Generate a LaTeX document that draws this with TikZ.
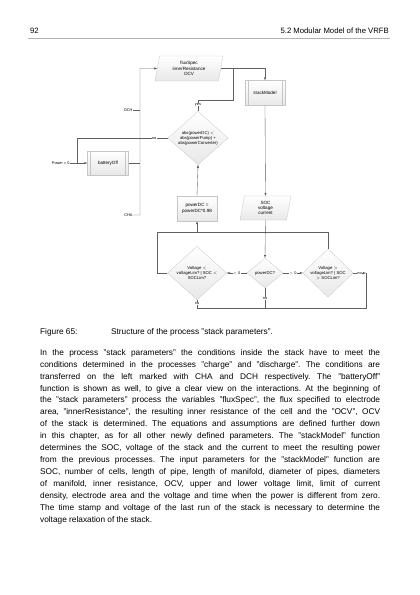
\documentclass[tikz,border=0pt]{standalone}
\usepackage{fontspec}
\setmainfont{Liberation Sans}
\usetikzlibrary{arrows,shapes,positioning}
\frenchspacing

\begin{document}
\begin{tikzpicture}
	[x=0.5mm, y=-0.5mm, >=latex,
	 shapefill/.style={draw=gray!45, top color=white, bottom color=gray!18},
	 procbox/.style={rectangle, shapefill, inner sep=0pt, align=center, font=\fontsize{6.5}{7.5}\selectfont},
	 subproc/.style={procbox, path picture={
	 	\draw[gray!45] ([xshift=1.5mm]path picture bounding box.north west) -- ([xshift=1.5mm]path picture bounding box.south west);
	 	\draw[gray!45] ([xshift=-1.5mm]path picture bounding box.north east) -- ([xshift=-1.5mm]path picture bounding box.south east);}},
	 iodata/.style={trapezium, trapezium left angle=72, trapezium right angle=108, trapezium stretches body, shapefill, inner sep=0pt, align=center, font=\fontsize{6.5}{7.5}\selectfont},
	 decision/.style={diamond, shapefill, inner sep=0pt, align=center, font=\fontsize{6}{7}\selectfont},
	 flow/.style={draw=gray!75!black, line width=0.5pt},
	 tag/.style={fill=white, inner sep=0.6pt, font=\fontsize{5.5}{5.5}\selectfont},
	 pagetext/.style={inner sep=0pt, font=\fontsize{11.8}{17}\selectfont}]
	\useasboundingbox (0,0) rectangle (420,595);
	% page head
	\node[pagetext, anchor=base west, font=\fontsize{11}{13}\selectfont] (pageNo) at (30,33) {92};
	\node[pagetext, anchor=base east, font=\fontsize{11}{13}\selectfont] (chapter) at (389,33) {5.2 Modular Model of the VRFB};
	\draw[gray!60, line width=0.4pt] (28,38) -- (390,38);
	% flow chart
	\node[iodata, minimum width=34mm, minimum height=12.5mm] (fluxSpec) at (189,68.5) {fluxSpec\\innerResistance\\OCV};
	\node[subproc, minimum width=20mm, minimum height=12.5mm] (stackModel) at (265,93) {stackModel};
	\node[decision, minimum width=30mm, minimum height=25mm] (absDia) at (198,138) {abs(powerDC) $<$\\abs(powerPump) +\\abs(powerConverter)};
	\node[subproc, minimum width=20.5mm, minimum height=12mm] (batteryOff) at (108,163) {batteryOff};
	\node[procbox, minimum width=20mm, minimum height=12.5mm] (powerRed) at (197,208.5) {powerDC =\\powerDC*0.98};
	\node[iodata, minimum width=25.5mm, minimum height=12mm] (socOut) at (265.5,208) {SOC\\voltage\\current};
	\node[decision, minimum width=29.5mm, minimum height=23mm] (leftDia) at (197,273) {Voltage $<$\\voltageLim? | SOC $<$\\SOCLim?};
	\node[decision, minimum width=18mm, minimum height=15mm] (powerDia) at (265,273) {powerDC?};
	\node[decision, minimum width=25mm, minimum height=23mm] (rightDia) at (328,273) {Voltage $>$\\voltageLim? | SOC\\$>$ SOCLim?};
	\node[tag, anchor=east] (dchIn) at (133,110) {DCH};
	\node[tag, anchor=east] (chaIn) at (133,215) {CHA};
	\node[tag, anchor=east] (pow0) at (70,163) {Power = 0};
	\coordinate (leftTop) at (140,68.5);
	\coordinate (offJoin) at (77,163);
	\coordinate (yesBend) at (233,100);
	\coordinate (loopLeft) at (157,232);
	\coordinate (loopBottom) at (197,308);
	\coordinate (noEnd) at (366,273);
	% connectors
	\draw[flow,->] (chaIn.east) -| (leftTop) -- (fluxSpec.west);
	\draw[flow] (dchIn.east) -- (dchIn.east -| leftTop);
	\draw[flow] (batteryOff.east) -- (batteryOff.east -| leftTop);
	\draw[flow] (absDia.west) -- node[tag, pos=0.15]{no} (absDia.west -| offJoin) -- (offJoin);
	\draw[flow,->] (pow0.east) -- (batteryOff.west);
	\draw[flow] (absDia.north) |- node[tag, pos=0.3]{yes} (yesBend) -- (yesBend |- fluxSpec.east);
	\draw[flow,->] (fluxSpec.east) -| (stackModel.north);
	\draw[flow,->] (stackModel.south) -- (socOut.north);
	\draw[flow,->] (powerRed.north) -- (absDia.south);
	\draw[flow,->] (socOut.south) -- (powerDia.north);
	\draw[flow] (leftDia.west) -| (loopLeft) -- (rightDia.north |- loopLeft) -- (rightDia.north);
	\draw[flow,->] (powerRed.south |- loopLeft) -- (powerRed.south);
	\draw[flow,->] (powerDia.west) -- node[tag]{$<$ 0} (leftDia.east);
	\draw[flow,->] (powerDia.east) -- node[tag]{$>$ 0} (rightDia.west);
	\draw[flow] (leftDia.south) -- node[tag]{no} (leftDia.south |- loopBottom) -| (noEnd);
	\draw[flow] (powerDia.south) -- node[tag]{no} (powerDia.south |- loopBottom);
	\draw[flow,->] (rightDia.east) -- node[tag]{no} (noEnd);
	% caption and text
	\node[pagetext, anchor=base west] (figLabel) at (40,334) {Figure 65:};
	\node[pagetext, anchor=base west] (figCaption) at (111,334) {Structure of the process ''stack parameters''.};
	\node[pagetext, anchor=north west, text width=170mm, align=justify] (bodyText) at (40,349) {In the process "stack parameters" the conditions inside the stack have to meet the\linebreak
	conditions determined in the processes "charge" and "discharge". The conditions are\linebreak
	transferred on the left marked with CHA and DCH respectively. The "batteryOff"\linebreak
	function is shown as well, to give a clear view on the interactions. At the beginning of\linebreak
	the "stack parameters" process the variables "fluxSpec", the flux specified to electrode\linebreak
	area, "innerResistance", the resulting inner resistance of the cell and the "OCV", OCV\linebreak
	of the stack is determined. The equations and assumptions are defined further down\linebreak
	in this chapter, as for all other newly defined parameters. The "stackModel" function\linebreak
	determines the SOC, voltage of the stack and the current to meet the resulting power\linebreak
	from the previous processes. The input parameters for the "stackModel" function are\linebreak
	SOC, number of cells, length of pipe, length of manifold, diameter of pipes, diameters\linebreak
	of manifold, inner resistance, OCV, upper and lower voltage limit, limit of current\linebreak
	density, electrode area and the voltage and time when the power is different from zero.\linebreak
	The time stamp and voltage of the last run of the stack is necessary to determine the\linebreak
	voltage relaxation of the stack.};
\end{tikzpicture}
\end{document}
